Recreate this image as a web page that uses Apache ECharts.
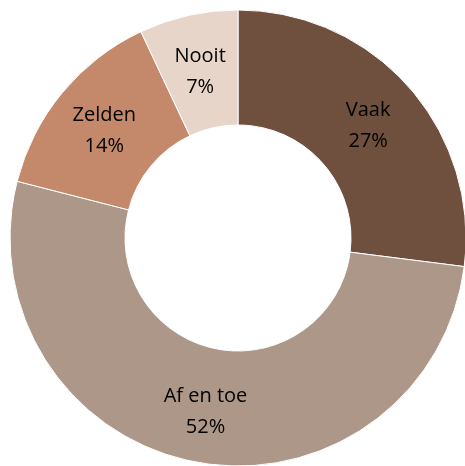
<!DOCTYPE html>
<html>
<head>
<meta charset="utf-8">
<script src="https://cdn.jsdelivr.net/npm/echarts@6/dist/echarts.min.js"></script>
<style>
  html, body { margin: 0; padding: 0; background: #fff; }
  #chart { width: 465px; height: 466px; }
</style>
</head>
<body>
<div id="chart"></div>
<script>
const categories = ['Vaak', 'Af en toe', 'Zelden', 'Nooit'];
const values = [27, 52, 14, 7];
const colors = ['#6f4f3e', '#ac9788', '#c4886b', '#e7d5c9'];

let chart = echarts.init(document.getElementById('chart'));

let data = categories.map((name, i) => {
    return { name: name, value: values[i], itemStyle: { color: colors[i] } };
});

let option = {
    animation: false,
    series: [
        {
            type: 'pie',
            center: [238, 238],
            radius: [113, 228],
            startAngle: 90,
            clockwise: true,
            data: data,
            itemStyle: { borderColor: '#fff', borderWidth: 1 },
            label: {
                position: 'inside',
                formatter: '{b}\n{d}%',
                color: '#000',
                fontFamily: 'Open Sans',
                fontSize: 20,
                lineHeight: 31,
                offset: [0, 3]
            },
            labelLine: { show: false }
        }
    ]
};
chart.setOption(option);
</script>
</body>
</html>
